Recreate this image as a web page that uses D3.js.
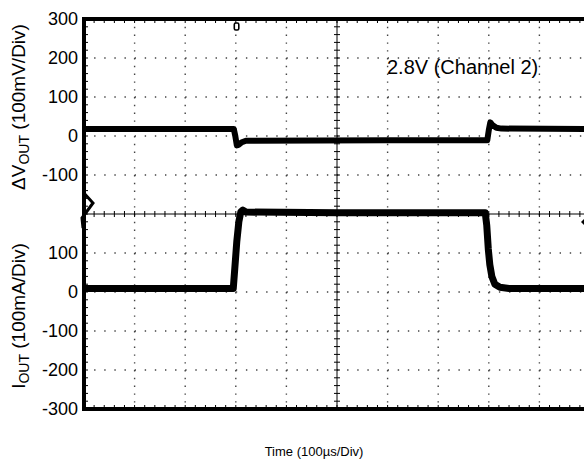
<!DOCTYPE html>
<html>
<head>
<meta charset="utf-8">
<script src="https://cdn.jsdelivr.net/npm/d3@7"></script>
<style>
  body { margin: 0; background: #fff; }
  text { font-family: "Liberation Sans", Arial, sans-serif; fill: #000; }
</style>
</head>
<body>
<div id="box1"></div>
<script>
// time in microseconds, values in mV (top trace) and mA (bottom trace)
var vTime = [0, 296, 299, 302, 306, 312, 320, 600, 797, 800, 803, 807, 815, 825, 1000];
var vValue = [18, 18, 0, -24, -22, -16, -12, -11, -11, 15, 35, 28, 21, 19, 18];
var iTime = [0, 295, 298, 302, 306, 310, 314, 320, 500, 793, 796, 799, 802, 806, 812, 822, 840, 1000];
var iValue = [9, 9, 60, 130, 180, 206, 210, 205, 203, 203, 170, 110, 70, 40, 20, 12, 9, 9];
var vTicks = [300, 200, 100, 0, -100];
var iTicks = [100, 0, -100, -200, -300];
var vTitle = ["\u0394V", "OUT", " (100mV/Div)"];
var iTitle = ["I", "OUT", " (100mA/Div)"];
var timeTitle = "Time (100\u00b5s/Div)";
var note = "2.8V (Channel 2)";

document.addEventListener("DOMContentLoaded", function(e) {
    drawScope();
});

function drawScope(){
    var width = 584;
    var height = 462;
    var left = 84, top = 19, right = 590, bottom = 409;
    var mid = (top + bottom) / 2;

    var svg = d3.select("#box1")
        .append("svg")
        .attr("width", width)
        .attr("height", height);

    var x = d3.scaleLinear().domain([0, 1000]).range([left, right]);
    var yV = d3.scaleLinear().domain([300, -200]).range([top, mid]);
    var yI = d3.scaleLinear().domain([200, -300]).range([mid, bottom]);

    var divX = (right - left) / 10;
    var divY = (bottom - top) / 10;

    svg.append("clipPath").attr("id", "plot")
      .append("rect")
      .attr("x", left).attr("y", top)
      .attr("width", right - left).attr("height", bottom - top);

    var grid = svg.append("g");
    // dotted grid, one dot per minor division
    for (var i = 1; i < 10; i++){
        if (i == 5) continue;
        grid.append("line")
          .attr("x1", left).attr("x2", right)
          .attr("y1", top + i * divY).attr("y2", top + i * divY)
          .attr("stroke", "#444")
          .attr("stroke-width", 1.4)
          .attr("stroke-dasharray", "1.4," + (divX / 5 - 1.4));
        grid.append("line")
          .attr("y1", top).attr("y2", bottom)
          .attr("x1", left + i * divX).attr("x2", left + i * divX)
          .attr("stroke", "#444")
          .attr("stroke-width", 1.4)
          .attr("stroke-dasharray", "1.4," + (divY / 5 - 1.4));
    }

    // centre cross with minor ticks
    var cx = left + 5 * divX;
    grid.append("line")
      .attr("x1", left).attr("x2", right).attr("y1", mid).attr("y2", mid)
      .attr("stroke", "#000").attr("stroke-width", 1);
    grid.append("line")
      .attr("x1", cx).attr("x2", cx).attr("y1", top).attr("y2", bottom)
      .attr("stroke", "#000").attr("stroke-width", 1);
    for (var k = 1; k < 50; k++){
        var px = left + k * divX / 5;
        grid.append("line")
          .attr("x1", px).attr("x2", px).attr("y1", mid - 3).attr("y2", mid + 3)
          .attr("stroke", "#000").attr("stroke-width", 1);
        grid.append("line")
          .attr("x1", px).attr("x2", px).attr("y1", bottom - 4).attr("y2", bottom)
          .attr("stroke", "#000").attr("stroke-width", 1);
        grid.append("line")
          .attr("x1", px).attr("x2", px).attr("y1", top).attr("y2", top + 4)
          .attr("stroke", "#000").attr("stroke-width", 1);
        var py = top + k * divY / 5;
        grid.append("line")
          .attr("x1", cx - 3).attr("x2", cx + 3).attr("y1", py).attr("y2", py)
          .attr("stroke", "#000").attr("stroke-width", 1);
        grid.append("line")
          .attr("x1", left).attr("x2", left + 4).attr("y1", py).attr("y2", py)
          .attr("stroke", "#000").attr("stroke-width", 1);
    }

    // traces
    var vLine = d3.line()
      .x(function(d, i){ return x(vTime[i]); })
      .y(function(d){ return yV(d); });
    var iLine = d3.line()
      .x(function(d, i){ return x(iTime[i]); })
      .y(function(d){ return yI(d); });

    svg.append("path")
      .attr("d", vLine(vValue))
      .attr("clip-path", "url(#plot)")
      .attr("fill", "none")
      .attr("stroke", "#000")
      .attr("stroke-width", 6)
      .attr("stroke-linejoin", "round");
    svg.append("path")
      .attr("d", iLine(iValue))
      .attr("clip-path", "url(#plot)")
      .attr("fill", "none")
      .attr("stroke", "#000")
      .attr("stroke-width", 7)
      .attr("stroke-linejoin", "round");

    // frame (right edge falls outside the window)
    svg.append("path")
      .attr("d", "M" + right + "," + top + "H" + left + "V" + bottom + "H" + right)
      .attr("fill", "none")
      .attr("stroke", "#000")
      .attr("stroke-width", 4);

    // scope markers
    svg.append("rect")
      .attr("x", x(300) - 1.5).attr("y", top + 4)
      .attr("width", 4.5).attr("height", 7).attr("rx", 1.5)
      .attr("fill", "#fff").attr("stroke", "#000").attr("stroke-width", 1.6);
    svg.append("path")
      .attr("d", "M" + (left - 1) + "," + (mid - 22) + "L" + (left + 9) + "," + (mid - 11)
        + "L" + (left - 2) + "," + (mid + 4) + "L" + (left - 1) + "," + (mid + 14))
      .attr("fill", "none").attr("stroke", "#000").attr("stroke-width", 3);
    svg.append("path")
      .attr("d", "M" + (right - 9) + "," + (mid + 8) + "l6,-6 l6,6 l-6,6z")
      .attr("fill", "#000");

    // tick labels
    var labels = svg.append("g").attr("font-size", 18).attr("text-anchor", "end");
    vTicks.forEach(function(t){
        labels.append("text")
          .attr("x", 78).attr("y", yV(t))
          .attr("dy", "0.35em")
          .text(t);
    });
    iTicks.forEach(function(t){
        labels.append("text")
          .attr("x", 78).attr("y", yI(t))
          .attr("dy", "0.35em")
          .text(t);
    });

    // axis titles
    var t1 = svg.append("text")
      .attr("transform", "translate(25," + 107 + ") rotate(-90)")
      .attr("text-anchor", "middle")
      .attr("font-size", 19);
    t1.append("tspan").text(vTitle[0]);
    t1.append("tspan").attr("font-size", 14).attr("dy", 4).text(vTitle[1]);
    t1.append("tspan").attr("dy", -4).text(vTitle[2]);

    var t2 = svg.append("text")
      .attr("transform", "translate(25," + 316 + ") rotate(-90)")
      .attr("text-anchor", "middle")
      .attr("font-size", 19);
    t2.append("tspan").text(iTitle[0]);
    t2.append("tspan").attr("font-size", 14).attr("dy", 4).text(iTitle[1]);
    t2.append("tspan").attr("dy", -4).text(iTitle[2]);

    svg.append("text")
      .attr("x", 314).attr("y", 456)
      .attr("text-anchor", "middle")
      .attr("font-size", 13)
      .text(timeTitle);

    svg.append("text")
      .attr("x", 387).attr("y", 74)
      .attr("font-size", 20)
      .text(note);
}
</script>
</body>
</html>
